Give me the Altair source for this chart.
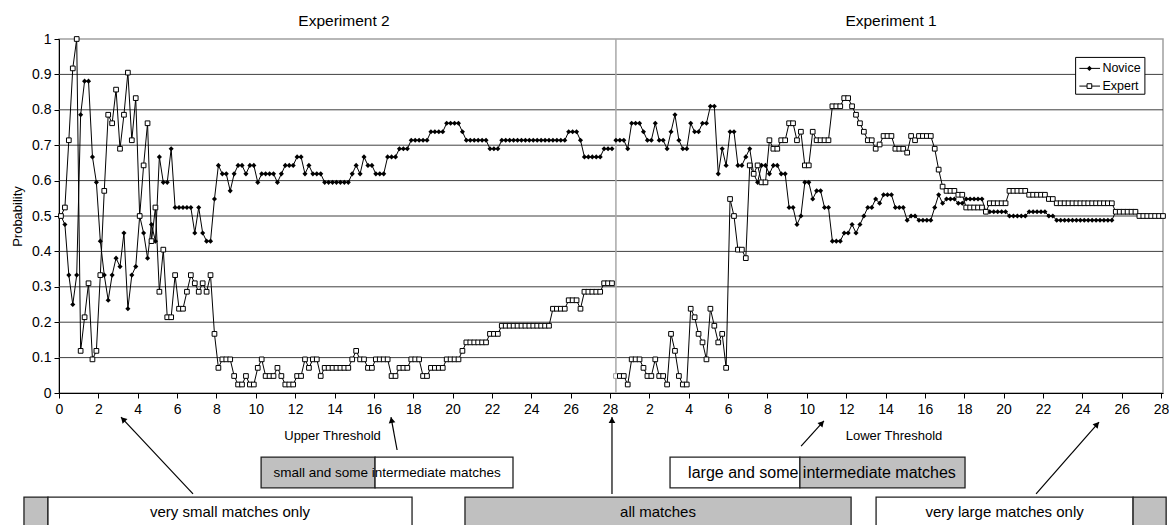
import math
import altair as alt
import pandas as pd

FONT = "Liberation Sans"

# Probability per threshold step (steps are 0.2 apart).
# Experiment 2 sweeps the upper threshold, Experiment 1 the lower threshold.
exp2_novice = [
    0.5, 0.476, 0.333, 0.25, 0.333, 0.786, 0.881, 0.881, 0.667, 0.595,
    0.429, 0.333, 0.262, 0.333, 0.381, 0.357, 0.452, 0.238, 0.333, 0.357,
    0.5, 0.452, 0.381, 0.476, 0.429, 0.667, 0.595, 0.595, 0.69, 0.524,
    0.524, 0.524, 0.524, 0.524, 0.452, 0.524, 0.452, 0.429, 0.429, 0.548,
    0.643, 0.619, 0.619, 0.571, 0.619, 0.643, 0.643, 0.619, 0.643, 0.643,
    0.595, 0.619, 0.619, 0.619, 0.619, 0.595, 0.619, 0.643, 0.643, 0.643,
    0.667, 0.667, 0.619, 0.643, 0.619, 0.619, 0.619, 0.595, 0.595, 0.595,
    0.595, 0.595, 0.595, 0.595, 0.619, 0.643, 0.619, 0.667, 0.643, 0.643,
    0.619, 0.619, 0.619, 0.667, 0.667, 0.667, 0.69, 0.69, 0.69, 0.714,
    0.714, 0.714, 0.714, 0.714, 0.738, 0.738, 0.738, 0.738, 0.762, 0.762,
    0.762, 0.762, 0.738, 0.714, 0.714, 0.714, 0.714, 0.714, 0.714, 0.69,
    0.69, 0.69, 0.714, 0.714, 0.714, 0.714, 0.714, 0.714, 0.714, 0.714,
    0.714, 0.714, 0.714, 0.714, 0.714, 0.714, 0.714, 0.714, 0.714, 0.738,
    0.738, 0.738, 0.714, 0.667, 0.667, 0.667, 0.667, 0.667, 0.69, 0.69,
    0.69,
]
exp2_expert = [
    0.5, 0.524, 0.714, 0.917, 1.0, 0.119, 0.214, 0.31, 0.095, 0.119,
    0.333, 0.571, 0.786, 0.762, 0.857, 0.69, 0.786, 0.905, 0.714, 0.833,
    0.5, 0.643, 0.762, 0.429, 0.524, 0.286, 0.405, 0.214, 0.214, 0.333,
    0.238, 0.238, 0.286, 0.333, 0.31, 0.286, 0.31, 0.286, 0.333, 0.167,
    0.071, 0.095, 0.095, 0.095, 0.048, 0.024, 0.024, 0.048, 0.024, 0.024,
    0.071, 0.095, 0.048, 0.048, 0.048, 0.071, 0.048, 0.024, 0.024, 0.024,
    0.048, 0.048, 0.095, 0.071, 0.095, 0.095, 0.048, 0.071, 0.071, 0.071,
    0.071, 0.071, 0.071, 0.071, 0.095, 0.119, 0.095, 0.095, 0.071, 0.071,
    0.095, 0.095, 0.095, 0.095, 0.048, 0.048, 0.071, 0.071, 0.071, 0.095,
    0.095, 0.095, 0.048, 0.048, 0.071, 0.071, 0.071, 0.071, 0.095, 0.095,
    0.095, 0.095, 0.119, 0.143, 0.143, 0.143, 0.143, 0.143, 0.143, 0.167,
    0.167, 0.167, 0.19, 0.19, 0.19, 0.19, 0.19, 0.19, 0.19, 0.19,
    0.19, 0.19, 0.19, 0.19, 0.19, 0.238, 0.238, 0.238, 0.238, 0.262,
    0.262, 0.262, 0.238, 0.286, 0.286, 0.286, 0.286, 0.286, 0.31, 0.31,
    0.31,
]
exp1_novice = [
    0.714, 0.714, 0.714, 0.69, 0.762, 0.762, 0.762, 0.738, 0.714, 0.714,
    0.762, 0.714, 0.714, 0.69, 0.738, 0.786, 0.714, 0.69, 0.69, 0.762,
    0.738, 0.738, 0.762, 0.762, 0.81, 0.81, 0.619, 0.69, 0.643, 0.738,
    0.738, 0.643, 0.643, 0.667, 0.69, 0.619, 0.595, 0.643, 0.643, 0.619,
    0.643, 0.643, 0.619, 0.619, 0.524, 0.524, 0.476, 0.5, 0.595, 0.595,
    0.548, 0.571, 0.571, 0.524, 0.524, 0.429, 0.429, 0.429, 0.452, 0.452,
    0.476, 0.452, 0.476, 0.5, 0.524, 0.524, 0.548, 0.536, 0.56, 0.56,
    0.56, 0.524, 0.524, 0.524, 0.488, 0.5, 0.5, 0.488, 0.488, 0.488,
    0.488, 0.524, 0.56, 0.536, 0.548, 0.548, 0.548, 0.536, 0.536, 0.548,
    0.548, 0.548, 0.548, 0.548, 0.512, 0.512, 0.512, 0.512, 0.512, 0.512,
    0.5, 0.5, 0.5, 0.5, 0.5, 0.512, 0.512, 0.512, 0.512, 0.512,
    0.5, 0.5, 0.488, 0.488, 0.488, 0.488, 0.488, 0.488, 0.488, 0.488,
    0.488, 0.488, 0.488, 0.488, 0.488, 0.488, 0.488, 0.512, 0.512, 0.512,
    0.512, 0.512, 0.512, 0.5, 0.5, 0.5, 0.5, 0.5, 0.5, 0.5,
]
exp1_expert = [
    0.048, 0.048, 0.048, 0.024, 0.095, 0.095, 0.095, 0.071, 0.048, 0.048,
    0.095, 0.048, 0.048, 0.024, 0.167, 0.119, 0.048, 0.024, 0.024, 0.238,
    0.214, 0.167, 0.143, 0.095, 0.238, 0.19, 0.143, 0.167, 0.071, 0.548,
    0.5, 0.405, 0.405, 0.381, 0.643, 0.619, 0.643, 0.595, 0.595, 0.714,
    0.69, 0.69, 0.714, 0.714, 0.762, 0.762, 0.714, 0.738, 0.643, 0.643,
    0.738, 0.714, 0.714, 0.714, 0.714, 0.81, 0.81, 0.81, 0.833, 0.833,
    0.81, 0.786, 0.762, 0.738, 0.714, 0.714, 0.69, 0.702, 0.726, 0.726,
    0.726, 0.69, 0.69, 0.69, 0.679, 0.726, 0.714, 0.726, 0.726, 0.726,
    0.726, 0.69, 0.631, 0.583, 0.571, 0.571, 0.571, 0.56, 0.56, 0.524,
    0.524, 0.524, 0.524, 0.524, 0.512, 0.536, 0.536, 0.536, 0.536, 0.536,
    0.571, 0.571, 0.571, 0.571, 0.571, 0.56, 0.56, 0.56, 0.56, 0.56,
    0.548, 0.548, 0.536, 0.536, 0.536, 0.536, 0.536, 0.536, 0.536, 0.536,
    0.536, 0.536, 0.536, 0.536, 0.536, 0.536, 0.536, 0.512, 0.512, 0.512,
    0.512, 0.512, 0.512, 0.5, 0.5, 0.5, 0.5, 0.5, 0.5, 0.5,
]

x_tick_values = list(range(0, 57, 2))
y_tick_values = [0, 0.1, 0.2, 0.3, 0.4, 0.5, 0.6, 0.7, 0.8, 0.9, 1]
grid_levels = [0.1, 0.2, 0.3, 0.4, 0.5, 0.6, 0.7, 0.8, 0.9]

STEP = 0.2
X_MAX = 56.1
W, H = 1104, 354
PX_PER_X = W / X_MAX
PX_PER_Y = H / 1.0

# ---- long table of both curves, the second experiment continues the axis ----
rows = []
offset = 0
for panel, novice, expert in [("Experiment 2", exp2_novice, exp2_expert),
                              ("Experiment 1", exp1_novice, exp1_expert)]:
    for i, (n, e) in enumerate(zip(novice, expert)):
        x = STEP / 2 + STEP * (offset + i)
        lead = panel == "Experiment 1" and i == 0
        rows.append(dict(panel=panel, series="Novice", x=x, y=n, lead=False))
        rows.append(dict(panel=panel, series="Expert", x=x, y=e, lead=lead))
    offset += len(novice)
curves = pd.DataFrame(rows)
split_x = STEP / 2 + STEP * len(exp2_novice)

x_scale = alt.Scale(domain=[0, X_MAX], nice=False, zero=False)
y_scale = alt.Scale(domain=[0, 1], nice=False, zero=False)
x_axis = alt.Axis(values=x_tick_values, title=None, grid=False, tickSize=5,
                  labelPadding=4, labelFlush=False, labelOverlap=False,
                  labelExpr="datum.value > 28 ? '' + (datum.value - 28) : datum.label")
y_axis = alt.Axis(values=y_tick_values, format="~g", title="Probability",
                  grid=False, tickSize=5, labelPadding=3, titlePadding=7)


def X(field="x"):
    return alt.X(f"{field}:Q", scale=x_scale, axis=x_axis)


def Y(field="y"):
    return alt.Y(f"{field}:Q", scale=y_scale, axis=y_axis)


# ---- horizontal grid and the divider between the two experiments ----
grid = alt.Chart(pd.DataFrame({"y": grid_levels, "x": 0.0, "x2": X_MAX})).mark_rule(
    color="#404040", strokeWidth=1
).encode(x=X(), x2="x2:Q", y=Y())

divider = alt.Chart(pd.DataFrame({"x": [split_x], "y": [0.0], "y2": [1.0]})).mark_rule(
    color="#a8a8a8", strokeWidth=1.5
).encode(x=X(), y=Y(), y2="y2:Q")

lines = alt.Chart(curves).mark_line(color="black", strokeWidth=1).encode(
    x=X(), y=Y(), detail=["panel:N", "series:N"]
)
novice_pts = alt.Chart(curves).transform_filter(alt.datum.series == "Novice").mark_point(
    shape="diamond", filled=True, color="black", size=26, opacity=1
).encode(x=X(), y=Y())
expert_pts = alt.Chart(curves).transform_filter(alt.datum.series == "Expert").mark_point(
    shape="square", filled=True, fill="white", strokeWidth=1, size=22, opacity=1
).encode(
    x=X(), y=Y(),
    stroke=alt.condition("datum.lead", alt.value("#a0a0a0"), alt.value("black")),
)

# ---- panel titles and threshold captions ----
captions = pd.DataFrame([
    {"x": 14.48, "y": 1.037, "text": "Experiment 2", "size": 15.5},
    {"x": 42.28, "y": 1.037, "text": "Experiment 1", "size": 15.5},
])
caption_layer = alt.Chart(captions).mark_text(
    font=FONT, color="black", align="center", baseline="alphabetic"
).encode(x=X(), y=Y(), text="text:N", size=alt.Size("size:Q", scale=None))

thresholds = pd.DataFrame([
    {"x": 13.9, "y": -0.1215, "text": "Upper Threshold"},
    {"x": 42.43, "y": -0.1215, "text": "Lower Threshold"},
])
threshold_layer = alt.Chart(thresholds).mark_text(
    font=FONT, fontSize=13, color="black", align="center", baseline="middle"
).encode(x=X(), y=Y(), text="text:N")

# ---- legend ----
legend_box = alt.Chart(pd.DataFrame({"x": [51.66], "x2": [55.18], "y": [0.948], "y2": [0.844]})).mark_rect(
    fill="white", stroke="black", strokeWidth=1
).encode(x=X(), x2="x2:Q", y=Y(), y2="y2:Q")
legend_rows = pd.DataFrame([
    {"series": "Novice", "x": 51.85, "x2": 52.9, "xm": 52.36, "xt": 53.02, "y": 0.917},
    {"series": "Expert", "x": 51.85, "x2": 52.9, "xm": 52.36, "xt": 53.02, "y": 0.867},
])
legend_lines = alt.Chart(legend_rows).mark_rule(color="black", strokeWidth=1).encode(
    x=X(), x2="x2:Q", y=Y()
)
legend_novice = alt.Chart(legend_rows).transform_filter(alt.datum.series == "Novice").mark_point(
    shape="diamond", filled=True, color="black", size=26, opacity=1
).encode(x=X("xm"), y=Y())
legend_expert = alt.Chart(legend_rows).transform_filter(alt.datum.series == "Expert").mark_point(
    shape="square", filled=True, fill="white", stroke="black", strokeWidth=1, size=22, opacity=1
).encode(x=X("xm"), y=Y())
legend_text = alt.Chart(legend_rows).mark_text(
    font=FONT, fontSize=12.5, color="black", align="left", baseline="middle"
).encode(x=X("xt"), y=Y(), text="series:N")

# ---- explanatory boxes below the axis ----
GREY = "#c0c0c0"
boxes = pd.DataFrame([
    {"x": -1.78, "x2": -0.56, "y": -0.294, "y2": -0.45, "fill": GREY},
    {"x": -0.56, "x2": 17.94, "y": -0.294, "y2": -0.45, "fill": "white"},
    {"x": 10.27, "x2": 16.06, "y": -0.181, "y2": -0.268, "fill": GREY},
    {"x": 16.06, "x2": 23.07, "y": -0.181, "y2": -0.268, "fill": "white"},
    {"x": 20.63, "x2": 40.25, "y": -0.294, "y2": -0.45, "fill": GREY},
    {"x": 31.05, "x2": 37.65, "y": -0.181, "y2": -0.268, "fill": "white"},
    {"x": 37.65, "x2": 46.04, "y": -0.181, "y2": -0.268, "fill": GREY},
    {"x": 41.52, "x2": 54.58, "y": -0.294, "y2": -0.45, "fill": "white"},
    {"x": 54.58, "x2": 56.26, "y": -0.294, "y2": -0.45, "fill": GREY},
])
box_layer = alt.Chart(boxes).mark_rect(stroke="#202020", strokeWidth=1.3).encode(
    x=X(), x2="x2:Q", y=Y(), y2="y2:Q", fill=alt.Fill("fill:N", scale=None)
)
box_labels = pd.DataFrame([
    {"x": 8.69, "y": -0.336, "text": "very small matches only", "size": 15},
    {"x": 16.67, "y": -0.2246, "text": "small and some intermediate matches", "size": 13.5},
    {"x": 30.44, "y": -0.336, "text": "all matches", "size": 15},
    {"x": 38.77, "y": -0.2246, "text": "large and some intermediate matches", "size": 16},
    {"x": 48.05, "y": -0.336, "text": "very large matches only", "size": 15},
])
box_text = alt.Chart(box_labels).mark_text(
    font=FONT, color="black", align="center", baseline="middle"
).encode(x=X(), y=Y(), text="text:N", size=alt.Size("size:Q", scale=None))

# ---- arrows pointing from the boxes to the threshold axis ----
arrows = pd.DataFrame([
    {"x": 6.81, "y": -0.285, "x2": 3.15, "y2": -0.068},
    {"x": 17.18, "y": -0.161, "x2": 16.87, "y2": -0.068},
    {"x": 28.10, "y": -0.285, "x2": 28.10, "y2": -0.068},
    {"x": 37.71, "y": -0.150, "x2": 38.87, "y2": -0.079},
    {"x": 49.65, "y": -0.285, "x2": 52.85, "y2": -0.082},
])
heads = []
for a in arrows.itertuples():
    dx = (a.x2 - a.x) * PX_PER_X
    dy = -(a.y2 - a.y) * PX_PER_Y
    length = math.hypot(dx, dy)
    back = 3.0 / length
    heads.append({
        "x": a.x2 - (a.x2 - a.x) * back,
        "y": a.y2 - (a.y2 - a.y) * back,
        "angle": (math.degrees(math.atan2(dx, -dy)) + 360) % 360,
    })
heads = pd.DataFrame(heads)
shafts = alt.Chart(arrows).mark_rule(color="black", strokeWidth=1.2).encode(
    x=X(), y=Y(), x2="x2:Q", y2="y2:Q"
)
arrow_heads = alt.Chart(heads).mark_point(
    shape="triangle-up", filled=True, color="black", size=45, opacity=1
).encode(x=X(), y=Y(), angle=alt.Angle("angle:Q", scale=None))

chart = alt.layer(
    grid, divider, box_layer, box_text, shafts, arrow_heads,
    lines, novice_pts, expert_pts,
    caption_layer, threshold_layer,
    legend_box, legend_lines, legend_novice, legend_expert, legend_text,
).properties(
    width=W, height=H,
    padding={"left": 59, "top": 39, "right": 6, "bottom": 132},
    autosize=alt.AutoSizeParams(type="none"),
    background="white",
).configure_view(
    stroke="#a0a0a0", strokeWidth=1.5
).configure_axis(
    labelFont=FONT, labelFontSize=14, labelColor="black",
    titleFont=FONT, titleFontSize=13, titleFontWeight="normal", titleColor="black",
    domainColor="black", tickColor="black", domainWidth=1, tickWidth=1,
)

chart.save("out.html", embed_options={"renderer": "svg", "actions": False})
